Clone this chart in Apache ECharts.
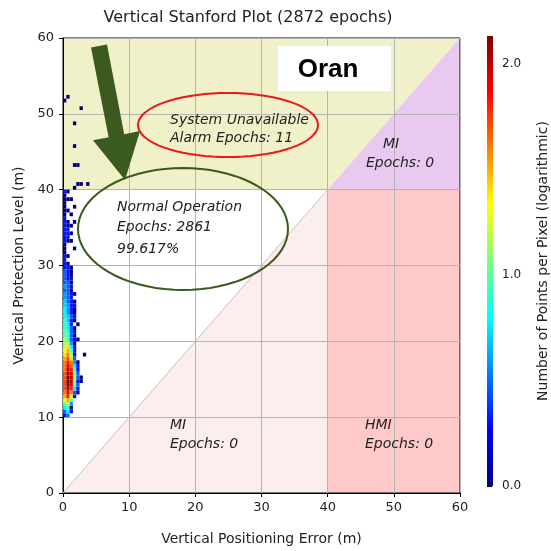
<!DOCTYPE html>
<html>
<head>
<meta charset="utf-8">
<script src="https://cdn.jsdelivr.net/npm/echarts@6/dist/echarts.min.js"></script>
<style>
  html, body { margin: 0; padding: 0; background: #fff; }
  #chart { width: 551px; height: 551px; }
</style>
</head>
<body>
<div id="chart"></div>
<script>
// axis ticks
var xTicks = [0, 10, 20, 30, 40, 50, 60];
var yTicks = [0, 10, 20, 30, 40, 50, 60];
var colorTicks = [0, 1, 2];
var colorMax = 2.13;
var alertLimit = 40;
var axisMax = 60;

// bins (m)
var binW = 0.5;
var binH = 0.5;
var firstRowY = 10;
// points per pixel, rows from VPL 10 m upward, columns from VPE 0 m to the right
var countRows = [
  [2, 3, 0, 0, 0, 0, 0],
  [3, 6, 2, 0, 0, 0, 0],
  [6, 8, 1, 0, 0, 0, 0],
  [10, 16, 4, 0, 0, 0, 0],
  [20, 32, 10, 0, 0, 0, 0],
  [32, 63, 20, 2, 0, 0, 0],
  [40, 79, 40, 3, 1, 0, 0],
  [50, 100, 63, 6, 2, 0, 0],
  [50, 126, 79, 10, 3, 0, 0],
  [50, 126, 100, 13, 2, 1, 0],
  [50, 126, 100, 16, 3, 1, 0],
  [50, 100, 79, 13, 3, 0, 0],
  [40, 100, 63, 10, 2, 0, 0],
  [40, 79, 50, 6, 2, 0, 0],
  [40, 63, 40, 4, 1, 0, 0],
  [32, 50, 25, 3, 0, 0, 0],
  [25, 40, 16, 2, 0, 0, 1],
  [20, 32, 10, 2, 0, 0, 0],
  [16, 25, 6, 2, 0, 0, 0],
  [13, 16, 4, 1, 0, 0, 0],
  [13, 10, 3, 2, 1, 0, 0],
  [10, 8, 3, 1, 0, 0, 0],
  [10, 8, 3, 2, 0, 0, 0],
  [8, 6, 3, 1, 0, 0, 0],
  [8, 6, 2, 0, 1, 0, 0],
  [8, 5, 2, 1, 0, 0, 0],
  [6, 5, 3, 2, 0, 0, 0],
  [6, 4, 2, 1, 0, 0, 0],
  [6, 4, 2, 1, 0, 0, 0],
  [5, 4, 2, 2, 0, 0, 0],
  [5, 3, 2, 1, 0, 0, 0],
  [4, 3, 2, 0, 0, 0, 0],
  [4, 3, 2, 1, 0, 0, 0],
  [3, 3, 1, 0, 0, 0, 0],
  [4, 3, 2, 0, 0, 0, 0],
  [3, 3, 1, 0, 0, 0, 0],
  [3, 2, 2, 0, 0, 0, 0],
  [3, 2, 1, 0, 0, 0, 0],
  [3, 2, 1, 0, 0, 0, 0],
  [2, 2, 1, 0, 0, 0, 0],
  [2, 1, 0, 0, 0, 0, 0],
  [2, 0, 0, 0, 0, 0, 0],
  [2, 1, 0, 0, 0, 0, 0],
  [1, 0, 0, 0, 0, 0, 0],
  [1, 0, 0, 1, 0, 0, 0],
  [1, 0, 0, 0, 0, 0, 0],
  [2, 1, 1, 0, 0, 0, 0],
  [2, 2, 0, 0, 0, 0, 0],
  [2, 2, 1, 0, 0, 0, 0],
  [2, 2, 0, 0, 0, 0, 0],
  [2, 1, 1, 0, 0, 0, 0],
  [2, 1, 0, 1, 0, 0, 0],
  [2, 0, 0, 0, 0, 0, 0],
  [1, 0, 1, 0, 0, 0, 0],
  [1, 1, 0, 0, 0, 0, 0],
  [1, 0, 0, 1, 0, 0, 0],
  [1, 0, 0, 0, 0, 0, 0],
  [1, 1, 1, 0, 0, 0, 0],
  [1, 0, 0, 0, 0, 0, 0],
  [2, 1, 0, 0, 0, 0, 0]
];
// alarm epochs (VPL above alert limit): [VPE bin, VPL bin, count]
var alarmCells = [
  [0.5, 52.0, 1], [0.0, 51.5, 1], [2.5, 50.5, 1], [1.5, 48.5, 1],
  [1.5, 45.5, 1], [1.5, 43.0, 1], [2.0, 43.0, 1], [2.0, 40.5, 1],
  [1.5, 40.0, 1], [2.5, 40.5, 1], [3.5, 40.5, 1]
];

var jet = ['#00007f', '#0000ff', '#007fff', '#00ffff', '#7fff7f', '#ffff00', '#ff7f00', '#ff0000', '#7f0000'];

var cells = [];
countRows.forEach(function (row, i) {
  row.forEach(function (c, j) {
    if (c > 0) cells.push([j * binW, firstRowY + i * binH, Math.log10(c)]);
  });
});
alarmCells.forEach(function (c) {
  cells.push([c[0], c[1], Math.log10(c[2])]);
});

var regions = [
  { pts: [[0, alertLimit], [alertLimit, alertLimit], [axisMax, axisMax], [0, axisMax]], color: '#f0f0c9' },
  { pts: [[alertLimit, alertLimit], [axisMax, alertLimit], [axisMax, axisMax]], color: '#e9c9ef' },
  { pts: [[alertLimit, 0], [axisMax, 0], [axisMax, alertLimit], [alertLimit, alertLimit]], color: '#fec9c8' },
  { pts: [[0, 0], [alertLimit, 0], [alertLimit, alertLimit]], color: '#fdeeee' }
];

function ellipse(cx, cy, rx, ry) {
  var pts = [];
  for (var i = 0; i < 72; i++) {
    var a = i / 72 * Math.PI * 2;
    pts.push([cx + rx * Math.cos(a), cy + ry * Math.sin(a)]);
  }
  return pts;
}

var font = 'DejaVu Sans';
var noteStyle = { fontFamily: font, fontStyle: 'italic', fontSize: 14, fill: '#222' };
function note(x, y, text) {
  return { type: 'text', x: x, y: y, z: 20, style: Object.assign({ text: text }, noteStyle) };
}

var myChart = echarts.init(document.getElementById('chart'));
var option = {
  backgroundColor: '#fff',
  animation: false,
  grid: [
    { left: 63, right: 91, top: 38, bottom: 56, show: true, borderColor: '#000', borderWidth: 1, backgroundColor: 'transparent' },
    { left: 487, width: 16, top: 36, height: 450 }
  ],
  xAxis: [
    {
      type: 'value', min: 0, max: 60, interval: 10,
      name: 'Vertical Positioning Error (m)', nameLocation: 'middle', nameGap: 39,
      nameTextStyle: { fontFamily: font, fontSize: 14, color: '#222' },
      axisLine: { lineStyle: { color: '#000' } },
      axisTick: { lineStyle: { color: '#000' }, length: 4 },
      axisLabel: { fontFamily: font, fontSize: 13, color: '#222', margin: 8 },
      splitLine: { lineStyle: { color: '#b4b4b4' } }
    },
    { gridIndex: 1, type: 'value', min: 0, max: 1, show: false }
  ],
  yAxis: [
    {
      type: 'value', min: 0, max: 60, interval: 10,
      name: 'Vertical Protection Level (m)', nameLocation: 'middle', nameGap: 31,
      nameTextStyle: { fontFamily: font, fontSize: 14, color: '#222' },
      axisLine: { lineStyle: { color: '#000' } },
      axisTick: { lineStyle: { color: '#000' }, length: 4 },
      axisLabel: { fontFamily: font, fontSize: 13, color: '#222', margin: 9 },
      splitLine: { lineStyle: { color: '#b4b4b4' } }
    },
    {
      gridIndex: 1, type: 'value', min: 0, max: colorMax, interval: 1, position: 'right',
      name: 'Number of Points per Pixel (logarithmic)', nameLocation: 'middle', nameGap: 43, nameRotate: 90,
      nameTextStyle: { fontFamily: font, fontSize: 14, color: '#222' },
      axisLine: { show: false },
      axisTick: { show: true, length: 5, lineStyle: { color: '#000' } },
      axisLabel: {
        fontFamily: font, fontSize: 12, color: '#222', margin: 9,
        formatter: function (v) { return colorTicks.indexOf(v) >= 0 ? v.toFixed(1) : ''; }
      },
      splitLine: { show: false }
    }
  ],
  visualMap: {
    show: false, type: 'continuous', seriesIndex: 2, dimension: 2,
    min: 0, max: colorMax, inRange: { color: jet }
  },
  series: [
    {
      type: 'custom', z: -1, silent: true,
      data: regions.map(function (r, i) { return [i]; }),
      renderItem: function (params, api) {
        var r = regions[api.value(0)];
        return {
          type: 'polygon',
          shape: { points: r.pts.map(function (p) { return api.coord(p); }) },
          style: { fill: r.color, stroke: null }
        };
      }
    },
    {
      type: 'custom', z: 1, silent: true,
      data: [[0, 0, alertLimit, alertLimit]],
      renderItem: function (params, api) {
        var a = api.coord([api.value(0), api.value(1)]);
        var b = api.coord([api.value(2), api.value(3)]);
        return { type: 'line', shape: { x1: a[0], y1: a[1], x2: b[0], y2: b[1] }, style: { stroke: '#cdbfbf', lineWidth: 1 } };
      }
    },
    {
      type: 'custom', z: 5, silent: true,
      data: cells,
      renderItem: function (params, api) {
        var p0 = api.coord([api.value(0), api.value(1) + binH]);
        var p1 = api.coord([api.value(0) + binW, api.value(1)]);
        return {
          type: 'rect',
          shape: { x: p0[0], y: p0[1], width: p1[0] - p0[0], height: p1[1] - p0[1] },
          style: { fill: api.visual('color') }
        };
      }
    },
    {
      type: 'custom', xAxisIndex: 1, yAxisIndex: 1, silent: true,
      data: [[0, 0, 1, colorMax]],
      renderItem: function (params, api) {
        var p0 = api.coord([api.value(0), api.value(3)]);
        var p1 = api.coord([api.value(2), api.value(1)]);
        return {
          type: 'rect',
          shape: { x: p0[0], y: p0[1], width: p1[0] - p0[0], height: p1[1] - p0[1] },
          style: {
            fill: new echarts.graphic.LinearGradient(0, 1, 0, 0, jet.map(function (c, i) {
              return { offset: i / (jet.length - 1), color: c };
            }))
          }
        };
      }
    }
  ],
  graphic: [
    { type: 'text', x: 248, y: 18, z: 20, style: { text: 'Vertical Stanford Plot (2872 epochs)', fontFamily: font, fontSize: 16, fill: '#222', align: 'center', verticalAlign: 'middle' } },
    { type: 'rect', z: 15, shape: { x: 278, y: 46, width: 113, height: 45 }, style: { fill: '#fff' } },
    { type: 'text', x: 328, y: 70, z: 20, style: { text: 'Oran', fontFamily: 'Liberation Sans', fontWeight: 'bold', fontSize: 26, fill: '#000', align: 'center', verticalAlign: 'middle' } },
    { type: 'polygon', z: 18, shape: { points: ellipse(228, 125, 90, 32) }, style: { fill: null, stroke: '#e8191b', lineWidth: 2 } },
    { type: 'polygon', z: 18, shape: { points: ellipse(183, 229, 105, 61) }, style: { fill: null, stroke: '#3b5a1f', lineWidth: 2 } },
    { type: 'polygon', z: 18, shape: { points: [[91, 47.5], [107, 44.5], [124.2, 134.2], [140, 131], [125, 180], [93, 140.3], [108.6, 137.2]] }, style: { fill: '#3b5a1f' } },
    note(170, 113, 'System Unavailable'),
    note(170, 131, 'Alarm Epochs: 11'),
    note(383, 137, 'MI'),
    note(366, 156, 'Epochs: 0'),
    note(117, 200, 'Normal Operation'),
    note(117, 220, 'Epochs: 2861'),
    note(117, 242, '99.617%'),
    note(170, 418, 'MI'),
    note(170, 437, 'Epochs: 0'),
    note(365, 418, 'HMI'),
    note(365, 437, 'Epochs: 0')
  ]
};
myChart.setOption(option);
</script>
</body>
</html>
